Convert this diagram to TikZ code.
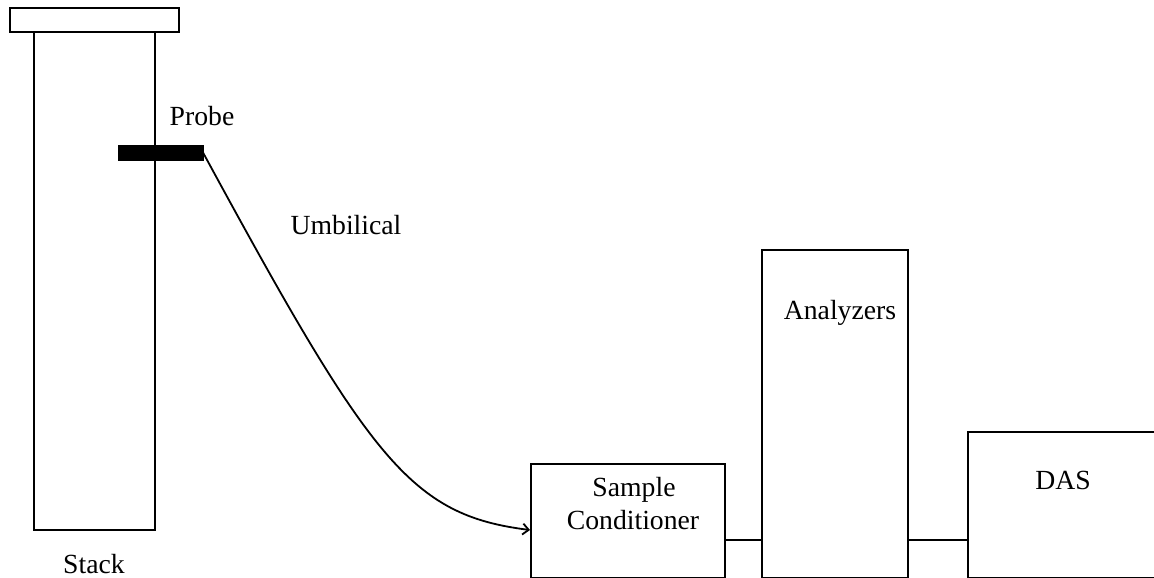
\documentclass[tikz,border=0pt]{standalone}
\usepackage{fontspec}
\setmainfont{Liberation Serif}
\usetikzlibrary{arrows.meta}
\begin{document}
\begin{tikzpicture}[x=1pt,y=-1pt,
  box/.style={draw,line width=2pt,rectangle,inner sep=0pt,anchor=north west},
  lbl/.style={font=\fontsize{27.7}{31}\selectfont,inner sep=0pt,anchor=base},
  wire/.style={line width=1.8pt}]
\useasboundingbox (0,0) rectangle (1154,578);
% stack
\node[box,minimum width=121pt,minimum height=498pt] (stack) at (33,31) {};
\node[box,fill=white,minimum width=169pt,minimum height=24pt] (cap) at (9,7) {};
\node[draw,fill=black,line width=0pt,rectangle,inner sep=0pt,anchor=north west,minimum width=85pt,minimum height=15pt] (probe) at (118,145) {};
\node[lbl] (stacklbl) at (94,573) {Stack};
\node[lbl] (probelbl) at (202,125) {Probe};
\node[lbl] (umblbl) at (346,234) {Umbilical};
% boxes
\node[box,minimum width=194pt,minimum height=114pt] (sc) at (530,463) {};
\node[box,minimum width=146pt,minimum height=328pt] (an) at (761,249) {};
\node[box,minimum width=200pt,minimum height=146pt] (das) at (967,431) {};
\node[lbl] (sc1) at (634,496) {Sample};
\node[lbl] (sc2) at (633,529) {Conditioner};
\node[lbl] (anlbl) at (840,319) {Analyzers};
\node[lbl] (daslbl) at (1063,489) {DAS};
% connectors
\coordinate (umbend) at (530,530);
\draw[wire,-{Straight Barb[length=6pt,width=11pt]}] (probe.east) .. controls (370,460) and (410,515) .. (umbend);
\draw[wire] (sc.east |- 0,540) -- (an.west |- 0,540);
\draw[wire] (an.east |- 0,540) -- (das.west |- 0,540);
\end{tikzpicture}
\end{document}
